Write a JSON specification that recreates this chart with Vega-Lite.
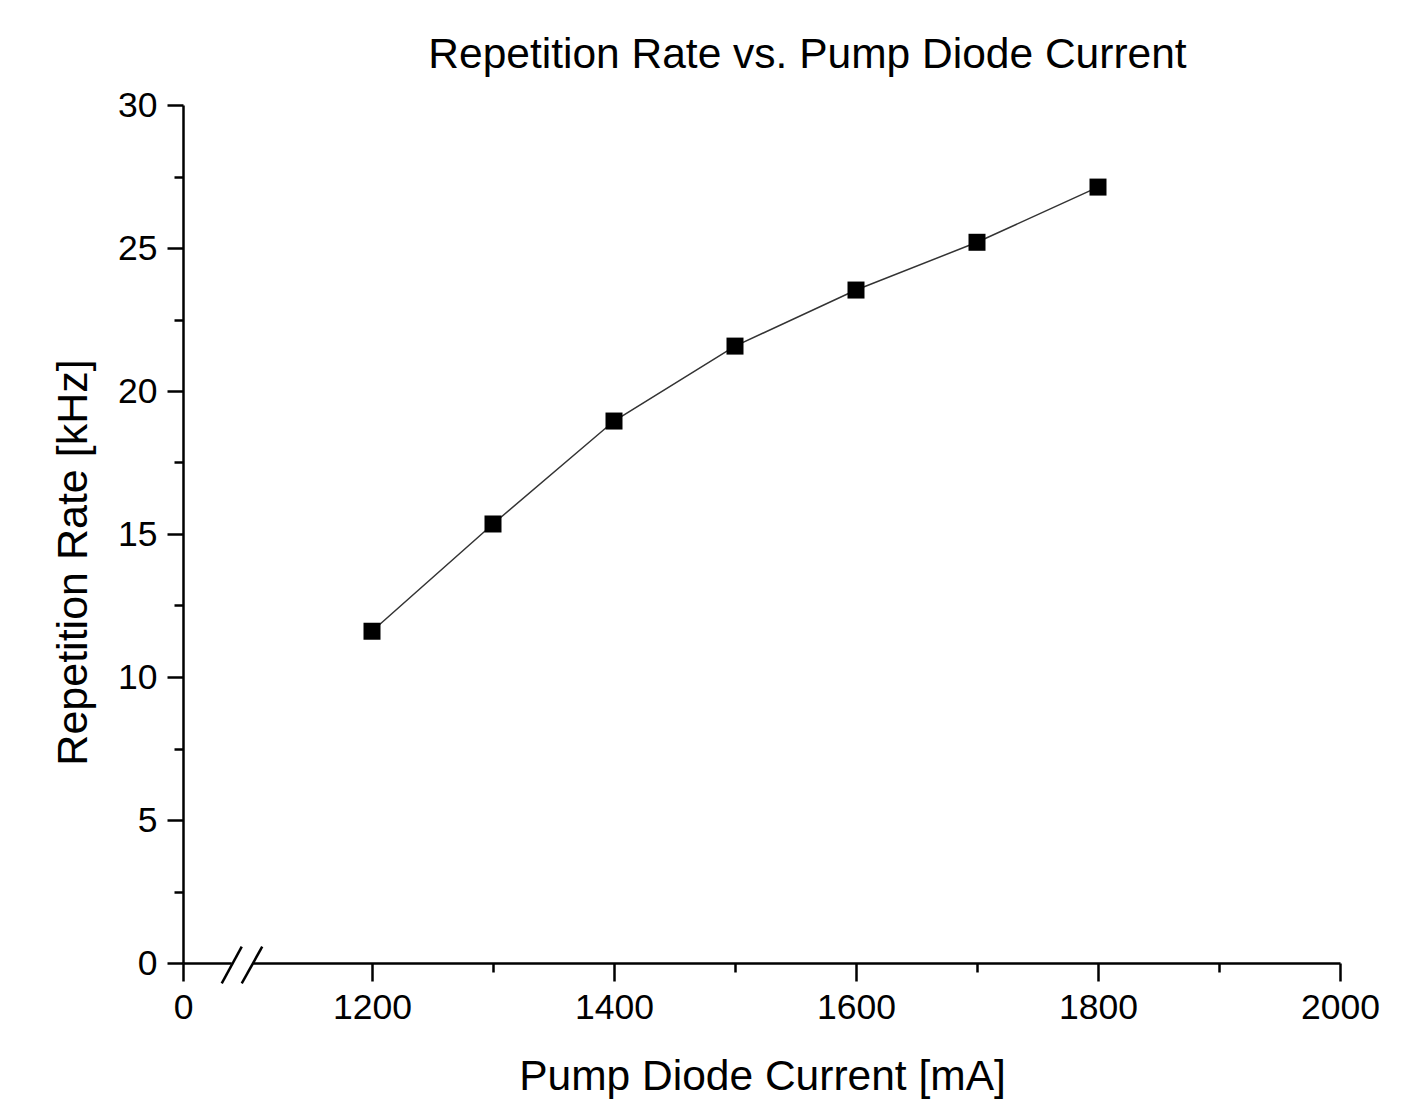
{
  "$schema": "https://vega.github.io/schema/vega-lite/v6.json",
  "width": 1157,
  "height": 858,
  "autosize": "none",
  "padding": {"left": 183, "top": 105, "right": 72, "bottom": 138},
  "background": "white",
  "config": {
    "view": {"stroke": null},
    "font": "Liberation Sans"
  },
  "title": {
    "text": "Repetition Rate vs. Pump Diode Current",
    "font": "Liberation Sans",
    "fontSize": 42.5,
    "fontWeight": "normal",
    "color": "black",
    "anchor": "middle",
    "dx": 46,
    "offset": -22,
    "baseline": "alphabetic"
  },
  "datasets": {
    "points": [
      {"current": 1200, "rate": 11.6},
      {"current": 1300, "rate": 15.35},
      {"current": 1400, "rate": 18.95},
      {"current": 1500, "rate": 21.57},
      {"current": 1600, "rate": 23.53},
      {"current": 1700, "rate": 25.2},
      {"current": 1800, "rate": 27.13}
    ],
    "gap": [
      {"x1": 309, "x2": 446, "y1": 0, "y2": 0}
    ],
    "slashes": [
      {"x1": 246, "x2": 373, "y1": -0.71, "y2": 0.57},
      {"x1": 373, "x2": 503, "y1": -0.71, "y2": 0.57}
    ]
  },
  "layer": [
    {
      "data": {"name": "gap"},
      "mark": {"type": "rule", "color": "white", "strokeWidth": 6, "clip": false},
      "encoding": {
        "x": {
          "field": "x1", "type": "quantitative",
          "scale": {"domain": [0, 1200, 2000], "range": [0, 189, 1157], "nice": false, "zero": false},
          "axis": {
            "values": [0, 1200, 1300, 1400, 1500, 1600, 1700, 1800, 1900, 2000],
            "labelExpr": "datum.value % 200 === 0 ? datum.label : ''",
            "format": "d",
            "grid": false,
            "domainColor": "black",
            "domainWidth": 2.5,
            "tickColor": "black",
            "tickWidth": 2.5,
            "tickSize": {"condition": {"test": "datum.value % 200 === 0", "value": 18}, "value": 9},
            "labelFont": "Liberation Sans",
            "labelFontSize": 35.5,
            "labelColor": "black",
            "labelPadding": 9,
            "labelFlush": false,
            "labelOverlap": false,
            "title": "Pump Diode Current [mA]",
            "titleFont": "Liberation Sans",
            "titleFontSize": 42.5,
            "titleFontWeight": "normal",
            "titleColor": "black",
            "titleX": 579,
            "titleY": 126,
            "titleBaseline": "alphabetic"
          }
        },
        "x2": {"field": "x2"},
        "y": {
          "field": "y1", "type": "quantitative",
          "scale": {"domain": [0, 30], "nice": false, "zero": false},
          "axis": {
            "values": [0, 2.5, 5, 7.5, 10, 12.5, 15, 17.5, 20, 22.5, 25, 27.5, 30],
            "labelExpr": "datum.value % 5 === 0 ? datum.label : ''",
            "grid": false,
            "domainColor": "black",
            "domainWidth": 2.5,
            "tickColor": "black",
            "tickWidth": 2.5,
            "tickSize": {"condition": {"test": "datum.value % 5 === 0", "value": 16}, "value": 9},
            "labelFont": "Liberation Sans",
            "labelFontSize": 35.5,
            "labelColor": "black",
            "labelPadding": 10,
            "labelFlush": false,
            "labelOverlap": false,
            "title": "Repetition Rate [kHz]",
            "titleFont": "Liberation Sans",
            "titleFontSize": 43,
            "titleFontWeight": "normal",
            "titleColor": "black",
            "titleX": -110,
            "titleY": 457,
            "titleBaseline": "middle"
          }
        },
        "y2": {"field": "y2"}
      }
    },
    {
      "data": {"name": "slashes"},
      "mark": {"type": "rule", "color": "black", "strokeWidth": 2.5, "clip": false},
      "encoding": {
        "x": {"field": "x1", "type": "quantitative"},
        "x2": {"field": "x2"},
        "y": {"field": "y1", "type": "quantitative"},
        "y2": {"field": "y2"}
      }
    },
    {
      "data": {"name": "points"},
      "mark": {"type": "line", "color": "#333333", "strokeWidth": 1.5},
      "encoding": {
        "x": {"field": "current", "type": "quantitative"},
        "y": {"field": "rate", "type": "quantitative"}
      }
    },
    {
      "data": {"name": "points"},
      "mark": {"type": "point", "shape": "square", "filled": true, "color": "black", "size": 289, "opacity": 1},
      "encoding": {
        "x": {"field": "current", "type": "quantitative"},
        "y": {"field": "rate", "type": "quantitative"}
      }
    }
  ]
}
